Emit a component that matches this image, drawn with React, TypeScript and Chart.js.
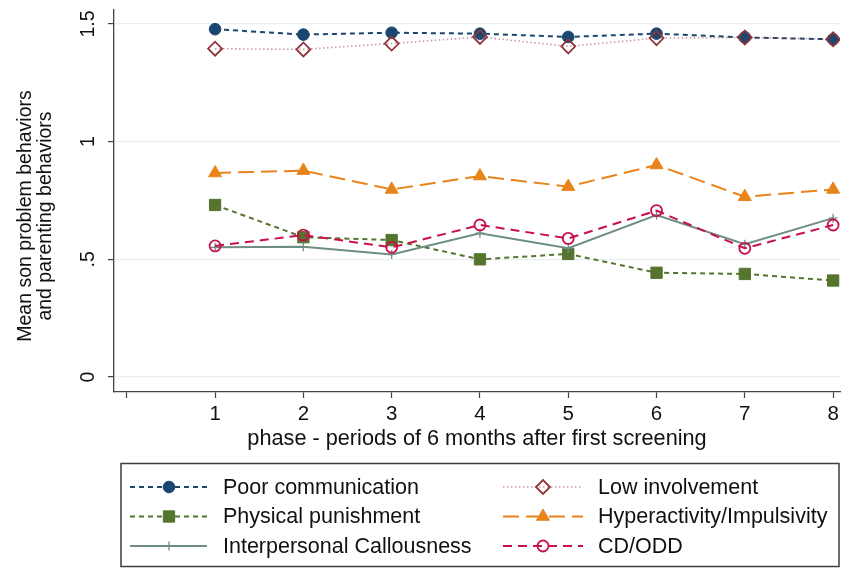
import React, { useEffect, useRef } from 'react';
import { Chart, registerables } from 'chart.js';

Chart.register(...registerables);

// ---- data ----
const phases = [1, 2, 3, 4, 5, 6, 7, 8];
const poorCommunication = [1.478, 1.455, 1.463, 1.459, 1.445, 1.459, 1.443, 1.435];
const lowInvolvement = [1.395, 1.392, 1.417, 1.445, 1.405, 1.44, 1.443, 1.435];
const physicalPunishment = [0.731, 0.594, 0.582, 0.5, 0.523, 0.443, 0.438, 0.41];
const hyperactivity = [0.867, 0.877, 0.797, 0.854, 0.809, 0.901, 0.766, 0.797];
const callousness = [0.551, 0.553, 0.521, 0.611, 0.547, 0.688, 0.564, 0.675];
const cdOdd = [0.557, 0.603, 0.551, 0.646, 0.589, 0.707, 0.547, 0.646];

const seriesNames = [
  'Poor communication',
  'Low involvement',
  'Physical punishment',
  'Hyperactivity/Impulsivity',
  'Interpersonal Callousness',
  'CD/ODD',
];

const xTicks = [0, 1, 2, 3, 4, 5, 6, 7, 8];
const xTickLabels = ['', '1', '2', '3', '4', '5', '6', '7', '8'];
const yTicks = [0, 0.5, 1, 1.5];
const yTickLabels = ['0', '.5', '1', '1.5'];

const xTitle = 'phase - periods of 6 months after first screening';
const yTitleLines = ['Mean son problem behaviors', 'and parenting behaviors'];

const FONT = '"Liberation Sans", Arial, Helvetica, sans-serif';

function drawMarker(
  ctx: CanvasRenderingContext2D,
  style: string,
  x: number,
  y: number,
  r: number,
  fill: string,
  stroke: string,
  bw: number
) {
  ctx.save();
  ctx.setLineDash([]);
  ctx.beginPath();
  if (style === 'circle') {
    ctx.arc(x, y, r, 0, Math.PI * 2);
  } else if (style === 'rect') {
    const s = Math.SQRT1_2 * r;
    ctx.rect(x - s, y - s, 2 * s, 2 * s);
  } else if (style === 'rectRot') {
    ctx.moveTo(x - r, y);
    ctx.lineTo(x, y - r);
    ctx.lineTo(x + r, y);
    ctx.lineTo(x, y + r);
    ctx.closePath();
  } else if (style === 'triangle') {
    let rad = 0;
    ctx.moveTo(x + Math.sin(rad) * r, y - Math.cos(rad) * r);
    rad += (2 * Math.PI) / 3;
    ctx.lineTo(x + Math.sin(rad) * r, y - Math.cos(rad) * r);
    rad += (2 * Math.PI) / 3;
    ctx.lineTo(x + Math.sin(rad) * r, y - Math.cos(rad) * r);
    ctx.closePath();
  } else if (style === 'cross') {
    ctx.moveTo(x, y - r);
    ctx.lineTo(x, y + r);
    ctx.moveTo(x - r, y);
    ctx.lineTo(x + r, y);
  }
  if (style !== 'cross') {
    ctx.fillStyle = fill;
    ctx.fill();
  }
  ctx.strokeStyle = stroke;
  ctx.lineWidth = bw;
  ctx.stroke();
  ctx.restore();
}

const legendPlugin = {
  id: 'stataLegend',
  afterDraw(chart: any) {
    const ctx: CanvasRenderingContext2D = chart.ctx;
    ctx.save();
    // legend box
    ctx.strokeStyle = '#3c3c3c';
    ctx.lineWidth = 1.5;
    ctx.setLineDash([]);
    ctx.strokeRect(121, 463.5, 718, 103);

    const rows = [487, 516.5, 546];
    const cols = [
      { x0: 130, x1: 207, m: 169, t: 223 },
      { x0: 503, x1: 583, m: 543, t: 598 },
    ];
    chart.data.datasets.forEach((ds: any, i: number) => {
      const row = rows[Math.floor(i / 2)];
      const col = cols[i % 2];
      ctx.save();
      ctx.strokeStyle = ds.borderColor;
      ctx.lineWidth = ds.borderWidth;
      ctx.setLineDash(ds.borderDash || []);
      ctx.beginPath();
      ctx.moveTo(col.x0, row);
      ctx.lineTo(col.x1, row);
      ctx.stroke();
      ctx.restore();
      drawMarker(
        ctx,
        ds.pointStyle,
        col.m,
        row,
        ds.pointRadius,
        ds.pointBackgroundColor,
        ds.pointBorderColor,
        ds.pointBorderWidth
      );
      ctx.fillStyle = '#111';
      ctx.font = `21.5px ${FONT}`;
      ctx.textAlign = 'left';
      ctx.textBaseline = 'middle';
      ctx.fillText(ds.label, col.t, row + 1);
    });

    // y-axis title
    ctx.fillStyle = '#111';
    ctx.font = `19.5px ${FONT}`;
    ctx.textAlign = 'center';
    ctx.textBaseline = 'middle';
    ctx.translate(26, 216);
    ctx.rotate(-Math.PI / 2);
    yTitleLines.forEach((line, k) => ctx.fillText(line, 0, k * 20));
    ctx.restore();
  },
};

function series(values: number[]) {
  return phases.map((p, i) => ({ x: p, y: values[i] }));
}

export default function App() {
  const ref = useRef<HTMLCanvasElement | null>(null);

  useEffect(() => {
    document.body.style.margin = '0';
    const canvas = ref.current;
    if (!canvas) return;
    Chart.defaults.font.family = FONT;

    const datasets: any[] = [
      {
        label: seriesNames[0],
        data: series(poorCommunication),
        borderColor: '#1a476f',
        borderWidth: 2,
        borderDash: [5, 4],
        pointStyle: 'circle',
        pointRadius: 5.8,
        pointBackgroundColor: '#1a476f',
        pointBorderColor: '#1a476f',
        pointBorderWidth: 1,
      },
      {
        label: seriesNames[1],
        data: series(lowInvolvement),
        borderColor: 'rgba(160, 70, 80, 0.55)',
        borderWidth: 1.6,
        borderDash: [1.5, 2.5],
        pointStyle: 'rectRot',
        pointRadius: 7,
        pointBackgroundColor: 'rgba(0,0,0,0)',
        pointBorderColor: '#90353b',
        pointBorderWidth: 1.8,
      },
      {
        label: seriesNames[2],
        data: series(physicalPunishment),
        borderColor: '#55752f',
        borderWidth: 2,
        borderDash: [5, 4],
        pointStyle: 'rect',
        pointRadius: 8,
        pointBackgroundColor: '#55752f',
        pointBorderColor: '#55752f',
        pointBorderWidth: 1,
      },
      {
        label: seriesNames[3],
        data: series(hyperactivity),
        borderColor: '#e8841a',
        borderWidth: 2,
        borderDash: [16, 7],
        pointStyle: 'triangle',
        pointRadius: 7.5,
        pointBackgroundColor: '#e8841a',
        pointBorderColor: '#e8841a',
        pointBorderWidth: 1,
      },
      {
        label: seriesNames[4],
        data: series(callousness),
        borderColor: '#6e8e84',
        borderWidth: 2,
        borderDash: [],
        pointStyle: 'cross',
        pointRadius: 4.5,
        pointBackgroundColor: '#6e8e84',
        pointBorderColor: '#6e8e84',
        pointBorderWidth: 1.3,
      },
      {
        label: seriesNames[5],
        data: series(cdOdd),
        borderColor: '#c8104a',
        borderWidth: 2,
        borderDash: [9, 6],
        pointStyle: 'circle',
        pointRadius: 5.5,
        pointBackgroundColor: 'rgba(0,0,0,0)',
        pointBorderColor: '#c8104a',
        pointBorderWidth: 1.8,
      },
    ].map((d, i) => ({
      ...d,
      fill: false,
      tension: 0,
      pointHoverRadius: d.pointRadius,
      order: 10 - i,
    }));

    const chart = new Chart(canvas, {
      type: 'line',
      data: { datasets },
      plugins: [legendPlugin],
      options: {
        animation: false,
        responsive: false,
        layout: { autoPadding: false, padding: { top: 10, right: 2, left: 0, bottom: 118 } },
        plugins: {
          legend: { display: false },
          tooltip: { enabled: false },
        },
        scales: {
          x: {
            type: 'linear',
            min: -0.145,
            max: 8.078,
            afterBuildTicks: (s: any) => {
              s.ticks = xTicks.map((v) => ({ value: v }));
            },
            afterFit: (s: any) => {
              s.height = 60;
              s.paddingLeft = 0;
              s.paddingRight = 0;
            },
            ticks: {
              autoSkip: false,
              maxRotation: 0,
              minRotation: 0,
              padding: 4,
              color: '#111',
              font: { size: 20.5 },
              callback: (v: any) => {
                const k = xTicks.indexOf(Number(v));
                return k >= 0 ? xTickLabels[k] : '';
              },
            },
            grid: {
              drawOnChartArea: false,
              drawTicks: true,
              tickLength: 6,
              tickColor: '#444',
              tickWidth: 1.2,
            },
            border: { display: true, color: '#444', width: 1.3 },
            title: {
              display: true,
              text: xTitle,
              color: '#111',
              font: { size: 21.7 },
              padding: { top: 0, bottom: 0 },
            },
          },
          y: {
            type: 'linear',
            min: -0.0637,
            max: 1.5595,
            afterBuildTicks: (s: any) => {
              s.ticks = yTicks.map((v) => ({ value: v }));
            },
            afterFit: (s: any) => {
              s.width = 114;
              s.paddingTop = 0;
              s.paddingBottom = 0;
            },
            ticks: {
              minRotation: 90,
              maxRotation: 90,
              crossAlign: 'center',
              padding: 6,
              color: '#111',
              font: { size: 19.5 },
              callback: (v: any) => {
                const k = yTicks.indexOf(Number(v));
                return k >= 0 ? yTickLabels[k] : '';
              },
            },
            grid: {
              color: '#e6eff1',
              lineWidth: 1.2,
              drawTicks: true,
              tickLength: 6,
              tickColor: '#444',
              tickWidth: 1.2,
            },
            border: { display: true, color: '#444', width: 1.3 },
          },
        },
      } as any,
    });

    return () => chart.destroy();
  }, []);

  return (
    <div style={{ width: 842, height: 570, background: '#fff' }}>
      <canvas ref={ref} width={842} height={570} style={{ display: 'block', width: 842, height: 570 }} />
    </div>
  );
}
